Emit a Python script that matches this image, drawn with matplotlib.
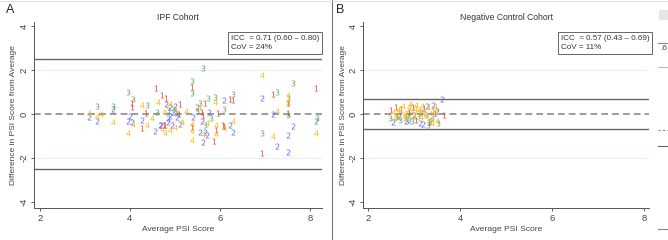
import matplotlib.pyplot as plt
from matplotlib.lines import Line2D
from matplotlib.patches import Rectangle

plt.rcParams["font.family"] = ["Liberation Sans", "DejaVu Sans"]

# marker colours for the four raters
rater_colors = {"1": "#e8403c", "2": "#5a5af0", "3": "#4a9e4a", "4": "#f6b90a"}

# IPF cohort: average PSI score (x) vs difference from average (y)
ipf_x = {
    "1": [8.13, 4.57, 5.38, 4.72, 4.80, 5.11, 6.22, 6.29, 7.18, 4.05, 4.05, 4.27, 4.75, 5.38,
          5.87, 5.92, 6.09, 6.93, 5.10, 4.35, 5.60, 5.95, 4.78, 5.62, 5.67, 6.07, 7.51, 7.51],
    "2": [3.63, 7.18, 6.09, 6.93, 3.28, 3.96, 4.05, 4.55, 4.67, 4.70, 4.85, 4.94, 5.12, 5.55,
          5.67, 5.72, 5.62, 6.22, 6.29, 7.51, 7.27, 7.51, 7.62, 8.13, 3.10, 4.26, 4.80, 4.90,
          5.00, 4.95, 5.05, 5.40, 5.60, 5.50, 5.75, 4.00, 4.85, 4.90],
    "3": [5.62, 7.62, 5.37, 5.38, 3.96, 4.07, 3.28, 3.63, 4.39, 5.56, 5.73, 5.90, 6.29, 7.27,
          7.51, 7.51, 8.15, 5.67, 6.93, 4.85, 4.95, 5.02, 4.60, 5.50, 6.10, 5.80],
    "4": [6.93, 4.63, 4.26, 5.53, 5.90, 7.51, 7.51, 7.27, 3.10, 3.63, 4.07, 3.95, 4.72, 4.78,
          4.90, 5.00, 5.15, 5.38, 5.38, 5.38, 5.62, 5.72, 5.92, 5.92, 6.10, 7.18, 8.13, 3.28,
          4.37, 4.90, 5.00, 4.75, 3.35, 6.30, 5.25, 4.50],
}
ipf_y = {
    "1": [1.18, 1.18, 1.22, 0.86, 0.73, 0.45, 0.68, 0.64, 0.90, 0.50, 0.32, -0.64, -0.50, -0.60,
          -1.23, -0.73, -0.55, -1.77, 0.00, 0.05, 0.10, 0.05, -0.50, -0.05, 0.52, -0.50, 0.50, 0.05],
    "2": [0.22, 0.00, 0.64, 0.73, -0.32, -0.32, -0.36, -0.77, -0.50, -0.50, -0.36, -0.50, -0.45,
          -0.82, -0.82, -0.95, -1.27, -0.50, -0.82, -0.95, -1.45, -1.73, -0.55, -0.32, -0.14,
          -0.27, 0.45, 0.30, 0.35, 0.10, -0.15, -0.15, -0.30, 0.30, 0.10, -0.10, -0.20, -0.10],
    "3": [2.09, 1.41, 1.50, 0.95, 1.00, 0.68, 0.36, 0.36, 0.41, 0.50, 0.73, 0.77, 0.90, 1.00,
          0.73, -0.05, -0.18, -0.50, -0.88, 0.20, 0.25, 0.05, 0.10, 0.15, 0.25, -0.20],
    "4": [1.77, 0.53, 0.41, 0.32, 0.55, 0.86, 0.50, 0.14, 0.05, -0.36, -0.45, -0.88, -0.68, -0.88,
          -0.73, -0.60, -0.36, -0.45, -0.77, -1.18, -0.91, -0.41, -0.91, -0.50, -0.64, -1.00,
          -0.88, -0.09, -0.50, 0.45, 0.20, 0.10, 0.02, -0.30, 0.15, -0.20],
}

# negative control cohort
neg_x = {
    "1": [2.50, 2.60, 2.72, 2.88, 3.05, 3.22, 3.32, 3.45, 3.65, 2.98],
    "2": [2.55, 2.68, 2.82, 3.00, 3.12, 3.20, 3.28, 3.35, 3.42, 3.50, 3.61, 2.90, 3.15],
    "3": [2.48, 2.60, 2.70, 2.80, 2.95, 3.08, 3.25, 3.40, 3.52, 2.87, 3.30],
    "4": [2.55, 2.62, 2.70, 2.75, 2.80, 2.85, 2.90, 2.95, 3.00, 3.05, 3.10, 3.15, 3.20, 3.30,
          3.35, 3.40, 3.45, 3.50, 2.65, 2.78, 2.92, 3.08, 3.25, 3.38, 2.58, 3.02, 3.18, 3.48],
}
neg_y = {
    "1": [0.18, 0.30, 0.22, 0.10, -0.25, 0.28, -0.35, 0.05, -0.05, 0.32],
    "2": [-0.35, -0.10, -0.30, -0.05, -0.40, -0.45, 0.35, -0.30, 0.42, 0.15, 0.68, -0.25, 0.10],
    "3": [-0.20, -0.15, -0.25, -0.20, -0.30, -0.10, -0.05, -0.20, -0.42, 0.00, -0.48],
    "4": [0.10, -0.05, 0.25, 0.35, 0.05, -0.20, 0.30, 0.15, -0.10, 0.40, 0.20, -0.15, 0.05, 0.30,
          -0.25, 0.15, 0.35, -0.30, 0.20, -0.10, 0.45, 0.10, -0.05, -0.40, -0.20, 0.25, 0.38, 0.08],
}

ipf_loa = 2.5
neg_loa = 0.69
ipf_stats = "ICC  = 0.71 (0.60 \u2013 0.80)\nCoV = 24%"
neg_stats = "ICC  = 0.57 (0.43 \u2013 0.69)\nCoV = 11%"

fig = plt.figure(figsize=(6.68, 2.4), dpi=100)
W, H = 668, 240


def panel(left, right, xlim, xs, ys, loa, title, stats, box_x, letter, letter_x, ylab_x):
    ax = fig.add_axes([left / W, 1 - 208 / H, (right - left) / W, (208 - 22) / H])
    ax.set_xlim(*xlim)
    ax.set_ylim(-4.27, 4.18)
    for y in (-2, 2):
        ax.axhline(y, color="#e6f1f2", lw=0.8, zorder=0)
    ax.axhline(loa, color="#666666", lw=1.0)
    ax.axhline(-loa, color="#666666", lw=1.0)
    ax.axhline(0, color="#8a8a8a", lw=1.2, ls=(0, (4, 2.5)))
    for k in ["1", "2", "3", "4"]:
        ax.scatter(xs[k], ys[k], marker=f"${k}$", s=18, color=rater_colors[k],
                   linewidths=0, alpha=0.9, zorder=3)
    ax.set_xticks([2, 4, 6, 8])
    ax.set_yticks([-4, -2, 0, 2, 4])
    ax.set_yticklabels(["-4", "-2", "0", "2", "4"], rotation=90, va="center")
    ax.tick_params(labelsize=6.8, colors="#444444", length=2.5, width=0.6, pad=1.5)
    for s in ("top", "right"):
        ax.spines[s].set_visible(False)
    for s in ("left", "bottom"):
        ax.spines[s].set_color("#555555")
        ax.spines[s].set_linewidth(0.7)
    ax.set_xlabel("Average PSI Score", fontsize=6.1, color="#444444")
    ax.xaxis.set_label_coords(0.5, -(226 - 208) / (208 - 22))
    ax.set_ylabel("Difference in PSI Score from Average", fontsize=6.0, color="#444444")
    ax.yaxis.set_label_coords((ylab_x - left) / (right - left), 0.5)
    fig.text((left + right) / 2 / W, 1 - 17 / H, title, fontsize=6.2, color="#333333",
             ha="center", va="center")
    fig.text(box_x / W, 1 - 43 / H, stats, fontsize=5.8, color="#333333", ha="left", va="center",
             linespacing=1.3,
             bbox=dict(boxstyle="square,pad=0.35", fc="white", ec="#666666", lw=0.7))
    fig.text(letter_x / W, 1 - 10 / H, letter, fontsize=9, color="#222222", ha="left", va="center")
    return ax


panel(34, 322, (1.87, 8.27), ipf_x, ipf_y, ipf_loa, "IPF Cohort", ipf_stats, 231, "A", 6, 17)
panel(363, 649, (1.89, 8.11), neg_x, neg_y, neg_loa, "Negative Control Cohort", neg_stats,
      561, "B", 336, 347)

# panel divider and clipped neighbouring panel on the right edge
fig.add_artist(Line2D([332 / W, 332 / W], [0, 1], color="#777777", lw=0.8))
fig.add_artist(Line2D([0, 1], [1 - 1 / H, 1 - 1 / H], color="#dddddd", lw=0.6))
fig.add_artist(Rectangle((659 / W, 1 - 20 / H), 9 / W, 10 / H, color="#e6e6e6", lw=0))
fig.text(660 / W, 1 - 49 / H, ".6", fontsize=6, color="#444444", va="center")
for yy, col in [(43, "#888888"), (67, "#bbbbbb"), (146, "#666666"), (229, "#888888")]:
    fig.add_artist(Line2D([658 / W, 1], [1 - yy / H, 1 - yy / H], color=col, lw=0.8))
fig.add_artist(Line2D([658 / W, 1], [1 - 130 / H, 1 - 130 / H], color="#888888", lw=0.8, ls=(0, (2, 2))))

fig.savefig("out.png", dpi=100)
